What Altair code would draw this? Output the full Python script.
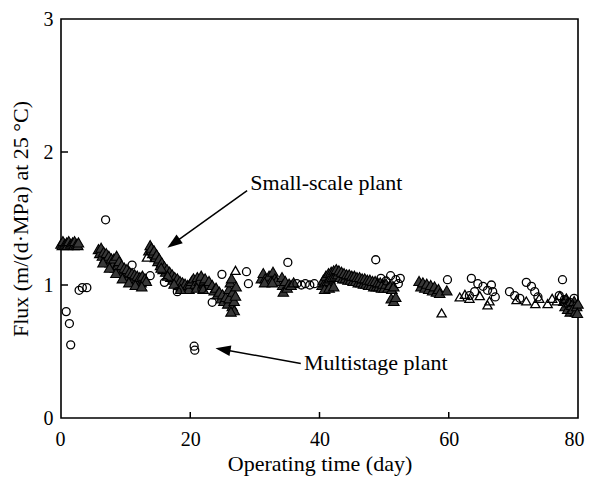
import altair as alt
import pandas as pd

# Small-scale plant (triangles), dense runs
tri_day = [
    0.0, 0.2, 0.3, 0.6, 0.9, 1.0, 1.2, 1.5, 1.8, 2.0, 2.1, 2.4, 2.6, 2.7,
    5.8, 6.0, 6.2, 6.4, 6.6, 6.8, 7.0, 7.2, 7.4, 7.6, 7.8, 8.0, 8.2, 8.4, 8.6, 8.8, 9.0, 9.2, 9.4,
    9.6, 9.8, 10.0, 10.2, 10.4, 10.6, 10.8, 11.0, 11.2, 11.4, 11.6, 11.8, 12.0, 12.2, 12.4, 12.6,
    12.8, 13.0, 13.2, 6.5, 7.5, 8.5, 9.5, 10.5, 11.5, 12.5,
    13.6, 13.8, 14.0, 14.2, 14.4, 14.6, 14.8, 15.0, 15.2, 15.4, 15.6, 15.8, 16.0, 16.2, 16.4,
    16.6, 16.8, 17.0, 17.2, 17.4, 17.6, 17.8, 18.0, 18.2, 18.4, 18.6, 18.8, 19.0, 19.2, 19.4, 19.6,
    19.8, 20.0, 15.5, 16.5, 17.5, 18.5,
    20.2, 20.5, 20.8, 21.1, 21.4, 21.7, 22.0, 22.3, 22.6, 22.9, 21.0, 22.0,
    23.4, 23.7, 24.0, 24.2, 24.5, 24.8, 25.0, 25.2, 25.5, 25.8, 26.0, 26.0, 26.2, 26.4, 26.5, 26.6,
    26.8, 26.8, 27.0, 27.1, 26.3,
    31.0, 31.3, 31.6, 31.9, 32.2, 32.5, 32.8, 33.1, 33.3, 31.5, 32.7,
    34.2, 34.3, 34.4, 34.7, 35.0, 35.3, 35.6, 36.0,
    40.4, 40.6, 40.8, 41.0, 41.2, 41.4, 41.6, 41.8, 42.0, 42.2, 42.4, 42.6, 42.8, 43.0, 43.2, 43.4,
    43.6, 43.8, 44.0, 44.2, 44.4, 44.6, 44.8, 45.0, 45.2, 45.4, 45.6, 45.8, 46.0, 46.2, 46.4, 46.6,
    46.8, 47.0, 47.2, 47.4, 47.6, 47.8, 48.0, 48.2, 48.4, 48.6, 48.8, 49.0, 49.2, 49.4, 49.6, 49.8,
    50.0, 50.3, 50.6, 50.9, 51.2, 51.5, 51.1, 51.5, 51.8, 40.8, 41.5, 42.2,
    55.4, 55.7, 56.0, 56.3, 56.6, 56.9, 57.2, 57.5, 57.8, 58.1, 58.4, 58.6, 59.7,
    77.8, 78.0, 78.2, 78.4, 78.6, 78.8, 79.0, 79.2, 79.4, 79.6, 79.8, 80.0, 79.9,
]
tri_flux = [
    1.31, 1.30, 1.33, 1.31, 1.32, 1.30, 1.33, 1.31, 1.32, 1.30, 1.33, 1.31, 1.30, 1.32,
    1.27, 1.24, 1.28, 1.22, 1.25, 1.20, 1.24, 1.19, 1.22, 1.17, 1.20, 1.15, 1.20, 1.13, 1.22, 1.15, 1.18, 1.11, 1.15,
    1.09, 1.13, 1.08, 1.12, 1.06, 1.10, 1.05, 1.09, 1.04, 1.08, 1.03, 1.07, 1.03, 1.06, 1.02, 1.07,
    1.03, 1.05, 1.03, 1.17, 1.13, 1.09, 1.05, 1.02, 1.00, 0.99,
    1.26, 1.30, 1.28, 1.24, 1.26, 1.21, 1.23, 1.18, 1.20, 1.15, 1.17, 1.12, 1.14, 1.10, 1.12,
    1.08, 1.10, 1.06, 1.08, 1.04, 1.06, 1.02, 1.05, 1.00, 1.03, 0.99, 1.02, 0.98, 1.01, 0.97, 1.00,
    0.97, 1.01, 1.13, 1.07, 1.01, 0.97,
    1.03, 1.05, 1.01, 1.06, 1.03, 1.07, 1.02, 1.05, 1.00, 1.03, 0.98, 0.97,
    1.00, 0.96, 0.98, 0.93, 0.95, 0.90, 0.93, 0.88, 0.91, 0.86, 0.90, 0.97, 1.02, 1.05, 0.84, 0.95,
    0.88, 0.81, 0.92, 0.99, 0.80,
    1.05, 1.09, 1.05, 1.03, 1.07, 1.03, 1.10, 1.05, 1.03, 1.02, 1.02,
    1.06, 1.00, 0.95, 1.03, 0.98, 1.01, 1.00, 1.02,
    1.00, 1.04, 1.02, 1.07, 1.03, 1.09, 1.05, 1.10, 1.06, 1.11, 1.07, 1.12, 1.08, 1.11, 1.06, 1.10,
    1.05, 1.09, 1.05, 1.08, 1.04, 1.08, 1.04, 1.07, 1.03, 1.07, 1.03, 1.06, 1.02, 1.06, 1.02, 1.05,
    1.01, 1.05, 1.01, 1.04, 1.00, 1.04, 1.00, 1.03, 0.99, 1.03, 0.99, 1.02, 0.99, 1.02, 0.98, 1.01,
    0.98, 1.01, 0.98, 1.00, 0.97, 0.99, 0.90, 0.88, 0.91, 0.97, 0.98, 0.99,
    1.03, 0.99, 1.02, 0.98, 1.01, 0.97, 1.00, 0.96, 0.99, 0.95, 0.97, 0.94, 0.96,
    0.88, 0.84, 0.90, 0.82, 0.87, 0.80, 0.85, 0.82, 0.88, 0.80, 0.84, 0.86, 0.79,
]

# Small-scale plant (triangles), scattered single points
tri_open_day = [13.3, 27.0, 58.9, 61.7, 62.5, 63.2, 64.8, 66.0, 66.3, 70.5, 72.0, 73.4, 74.0,
                75.3, 76.0, 76.7, 77.2]
tri_open_flux = [1.21, 1.11, 0.79, 0.91, 0.93, 0.90, 0.92, 0.85, 0.88, 0.89, 0.88, 0.86, 0.90,
                 0.86, 0.90, 0.88, 0.92]

# Multistage plant (circles)
cir_day = [
    0.8, 1.3, 1.5, 2.8, 3.3, 4.0, 6.9, 11.0, 13.8, 16.0, 18.0, 20.6, 20.7, 21.8, 23.4, 24.9,
    28.7, 29.0, 35.1, 36.5, 37.2, 37.8, 38.5, 39.2, 48.7, 49.5, 50.3, 51.0, 51.8, 52.2, 52.5,
    59.8, 63.5, 64.5, 65.3, 66.0, 66.8, 66.6, 64.0, 63.2, 67.2, 69.4, 70.2, 72.0, 72.8, 73.3,
    73.8, 71.0, 77.6, 77.1, 77.9, 78.7, 79.4,
]
cir_flux = [
    0.80, 0.71, 0.55, 0.96, 0.98, 0.98, 1.49, 1.15, 1.07, 1.02, 0.95, 0.54, 0.51, 0.97, 0.87, 1.08,
    1.10, 1.01, 1.17, 1.01, 1.00, 1.01, 1.00, 1.01, 1.19, 1.05, 1.03, 1.07, 1.04, 1.01, 1.05,
    1.04, 1.05, 1.01, 0.99, 0.96, 0.95, 1.00, 0.95, 0.92, 0.91, 0.95, 0.92, 1.02, 0.99, 0.95,
    0.91, 0.90, 1.04, 0.92, 0.89, 0.87, 0.90,
]

x_ticks = [0, 20, 40, 60, 80]
y_ticks = [0, 1, 2, 3]
inner_x_ticks = [20, 40, 60]
inner_y_ticks = [1, 2]

label_text = ["Small-scale plant", "Multistage plant"]
label_day = [29.3, 37.6]
label_flux = [1.77, 0.41]

arrow_small_day = [28.8, 17.41]
arrow_small_flux = [1.71, 1.313]
arrow_multi_day = [37.1, 25.06]
arrow_multi_flux = [0.41, 0.515]

FONT = "Liberation Serif"

tri_df = pd.DataFrame({"day": tri_day, "flux": tri_flux})
tri_open_df = pd.DataFrame({"day": tri_open_day, "flux": tri_open_flux})
cir_df = pd.DataFrame({"day": cir_day, "flux": cir_flux})

xs = alt.Scale(domain=[0, 80], nice=False, zero=False)
ys = alt.Scale(domain=[0, 3], nice=False, zero=False)

x_enc = alt.X("day:Q", scale=xs, axis=alt.Axis(
    values=x_ticks, format="d", title="Operating time (day)", ticks=False, domain=False,
    grid=False, labelFont=FONT, labelFontSize=20, labelColor="black", labelPadding=11,
    labelFlush=True, labelFlushOffset=6,
    titleFont=FONT, titleFontSize=22, titleFontWeight="normal", titleColor="black", titlePadding=4))
y_enc = alt.Y("flux:Q", scale=ys, axis=alt.Axis(
    values=y_ticks, format="d", title="Flux (m/(d·MPa) at 25 °C)", ticks=False, domain=False,
    grid=False, labelFont=FONT, labelFontSize=20, labelColor="black", labelPadding=8,
    titleFont=FONT, titleFontSize=22, titleFontWeight="normal", titleColor="black", titlePadding=11,
    labelFlush=False))

X = alt.X("day:Q", scale=xs)
Y = alt.Y("flux:Q", scale=ys)

triangles = alt.Chart(tri_df).mark_point(
    shape="triangle-up", filled=True, color="#383838", stroke="black", size=110,
    strokeWidth=1.1, opacity=1
).encode(x=x_enc, y=y_enc)

triangles_open = alt.Chart(tri_open_df).mark_point(
    shape="triangle-up", filled=False, color="black", size=85, strokeWidth=1.3, opacity=1
).encode(x=X, y=Y)

circles = alt.Chart(cir_df).mark_point(
    shape="circle", filled=False, color="black", size=64, strokeWidth=1.3, opacity=1
).encode(x=X, y=Y)

xt = alt.Chart(pd.DataFrame({"day": inner_x_ticks})).mark_rule(color="black", strokeWidth=1.5).encode(
    x=X, y=alt.value(399), y2=alt.value(393))
yt = alt.Chart(pd.DataFrame({"flux": inner_y_ticks})).mark_rule(color="black", strokeWidth=1.5).encode(
    y=Y, x=alt.value(0), x2=alt.value(7))

labels = alt.Chart(pd.DataFrame({"day": label_day, "flux": label_flux, "t": label_text})).mark_text(
    align="left", baseline="middle", font=FONT, fontSize=22, color="black"
).encode(x=X, y=Y, text="t:N")

a1 = pd.DataFrame({"day": arrow_small_day, "flux": arrow_small_flux})
a2 = pd.DataFrame({"day": arrow_multi_day, "flux": arrow_multi_flux})

HEAD = "M0,-1L0.7,1L-0.7,1Z"

def arrow(df, ang):
    line = alt.Chart(df).mark_line(color="black", strokeWidth=1.5).encode(x=X, y=Y)
    head = alt.Chart(df.tail(1)).mark_point(
        shape=HEAD, filled=True, color="black", size=230, angle=ang, opacity=1
    ).encode(x=X, y=Y)
    return line + head

chart = alt.layer(
    triangles, triangles_open, circles, xt, yt, labels, arrow(a1, 234), arrow(a2, 280)
).properties(
    width=517, height=399,
    autosize=alt.AutoSizeParams(type="none"),
    padding={"left": 53, "top": 11, "right": 7, "bottom": 60},
    background="white",
).configure_view(stroke="black", strokeWidth=1.6)

chart.save("out.html", embed_options={"renderer": "svg", "actions": False})
